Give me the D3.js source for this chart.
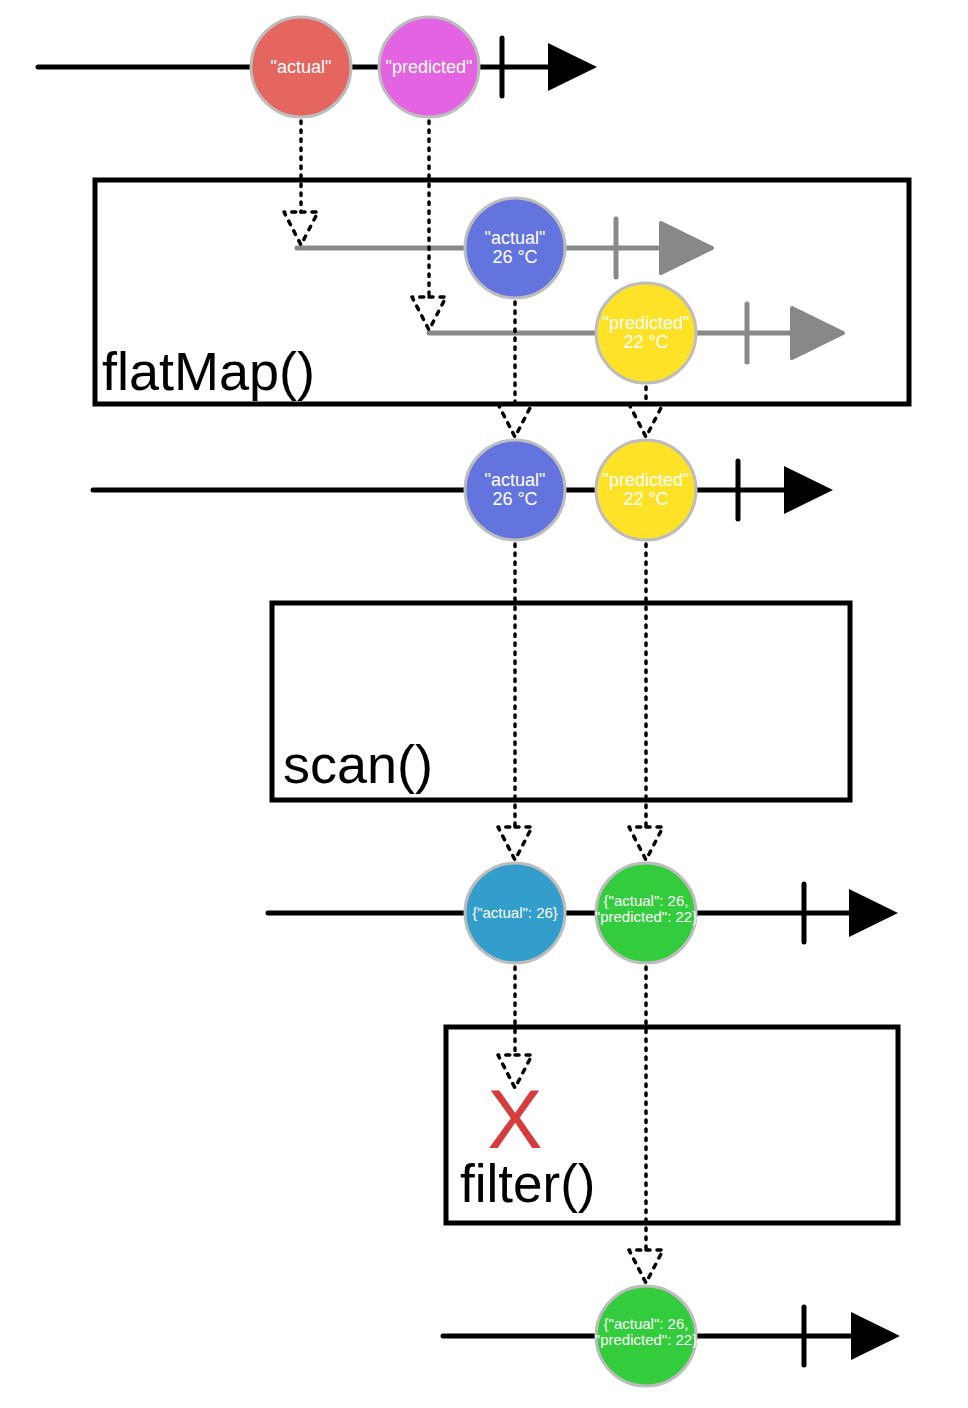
<!DOCTYPE html>
<html>
<head>
<meta charset="utf-8">
<script src="https://cdn.jsdelivr.net/npm/d3@7"></script>
<style>
  html, body { margin: 0; padding: 0; background: #fff; }
  svg { display: block; font-family: "Liberation Sans", Arial, sans-serif; }
</style>
</head>
<body>
<svg id="chart" width="968" height="1408"></svg>
<script>
//streams (time runs left to right, in diagram time units)
const streams = ["source", "inner1", "inner2", "merged", "scanned", "filtered"];
const streamStart = [38, 297, 429, 93, 268, 443];
const streamComplete = [502, 616, 747, 738, 804, 804];
const streamEnd = [597, 714, 845, 833, 898, 900];
const innerStreams = ["inner1", "inner2"];

//emitted values
const marbleStream = ["source", "source", "inner1", "inner2", "merged", "merged", "scanned", "scanned", "filtered"];
const marbleTime = [301, 429, 515, 646, 515, 646, 515, 646, 646];
const marbleKind = ["actual", "predicted", "actual", "predicted", "actual", "predicted", "scanA", "scanAP", "scanAP"];
const marbleText = [
	['"actual"'],
	['"predicted"'],
	['"actual"', '26 °C'],
	['"predicted"', '22 °C'],
	['"actual"', '26 °C'],
	['"predicted"', '22 °C'],
	['{"actual": 26}'],
	['{"actual": 26,', '"predicted": 22}'],
	['{"actual": 26,', '"predicted": 22}']
];

//operators
const operatorNames = ["flatMap()", "scan()", "filter()"];

//arrows between marbles: from marble index -> to marble index / stream start / dropped
const edgeFrom = [0, 1, 2, 3, 4, 5, 6, 7];
const edgeTo = ["start:inner1", "start:inner2", 4, 5, 6, 7, "drop", 8];

//layout (kept away from the data)
const x = d3.scaleLinear().domain([0, 968]).range([0, 968]);
const y = d3.scaleOrdinal().domain(streams).range([67, 248, 333, 490, 913, 1336]);
const R = 50;
const boxes = [
	{x0: 95, x1: 909, y0: 180, y1: 404},
	{x0: 272, x1: 850, y0: 603, y1: 800},
	{x0: 446, x1: 898, y0: 1027, y1: 1223}
];
const dropPoint = {t: 515, y: 1088};

const colour = d3.scaleOrdinal()
	.domain(["actual", "predicted", "scanA", "scanAP"])
	.range(["#e5655f", "#e363e3", "#339dcc", "#33cc3d"]);
const innerColour = colour.copy().range(["#6474de", "#fde228", "#339dcc", "#33cc3d"]);

const svg = d3.select("#chart");

//operator boxes
const ops = svg.append("g").selectAll("g")
	.data(operatorNames)
	.join("g");

ops.append("rect")
	.attr("x", (d, i) => boxes[i].x0)
	.attr("y", (d, i) => boxes[i].y0)
	.attr("width", (d, i) => boxes[i].x1 - boxes[i].x0)
	.attr("height", (d, i) => boxes[i].y1 - boxes[i].y0)
	.attr("fill", "none")
	.attr("stroke", "#000")
	.attr("stroke-width", 5);

ops.append("text")
	.attr("x", (d, i) => boxes[i].x0 + [7, 11, 14][i])
	.attr("y", (d, i) => boxes[i].y1 - [14, 17, 21][i])
	.attr("font-size", (d, i) => [54, 54, 53][i])
	.text(d => d);

//the dropped value in filter()
svg.append("text")
	.attr("x", x(dropPoint.t))
	.attr("y", dropPoint.y + 60)
	.attr("text-anchor", "middle")
	.attr("font-size", 83)
	.attr("fill", "#d63c3c")
	.text("X");

//timelines
const lines = svg.append("g").selectAll("g")
	.data(streams)
	.join("g")
	.attr("class", "timeline");

const lineColour = s => innerStreams.includes(s) ? "#888" : "#000";

lines.append("line")
	.attr("x1", (d, i) => x(streamStart[i]))
	.attr("x2", (d, i) => x(streamEnd[i]) - 10)
	.attr("y1", d => y(d))
	.attr("y2", d => y(d))
	.attr("stroke", lineColour)
	.attr("stroke-width", 5)
	.attr("stroke-linecap", "round");

lines.append("line")
	.attr("x1", (d, i) => x(streamComplete[i]))
	.attr("x2", (d, i) => x(streamComplete[i]))
	.attr("y1", d => y(d) - 29)
	.attr("y2", d => y(d) + 29)
	.attr("stroke", lineColour)
	.attr("stroke-width", 5)
	.attr("stroke-linecap", "round");

lines.append("path")
	.attr("d", (d, i) => {
		let gray = innerStreams.includes(d);
		let e = x(streamEnd[i]) - (gray ? 2 : 0);
		let w = gray ? 51 : 49;
		let h = gray ? 25 : 24;
		let cy = y(d);
		return `M${e - w},${cy - h}L${e},${cy}L${e - w},${cy + h}Z`;
	})
	.attr("fill", lineColour)
	.attr("stroke", d => innerStreams.includes(d) ? "#888" : "none")
	.attr("stroke-width", 4)
	.attr("stroke-linejoin", "round");

//dotted arrows
function marblePos(i){
	return {x: x(marbleTime[i]), y: y(marbleStream[i])};
}

const edges = edgeFrom.map(function(f, k){
	let a = marblePos(f);
	let to = edgeTo[k];
	let tip;
	if (typeof to === "number"){
		let b = marblePos(to);
		tip = {x: b.x, y: b.y - R - 3};
	} else if (to === "drop"){
		tip = {x: x(dropPoint.t), y: dropPoint.y};
	} else {
		let s = to.split(":")[1];
		tip = {x: a.x, y: y(s) - 3};
	}
	return {x: a.x, y1: a.y + R, tip: tip};
});

const arrows = svg.append("g").selectAll("g")
	.data(edges)
	.join("g");

arrows.append("line")
	.attr("x1", d => d.x)
	.attr("x2", d => d.x)
	.attr("y1", d => d.y1 + 4)
	.attr("y2", d => d.tip.y - 33)
	.attr("stroke", "#000")
	.attr("stroke-width", 3.5)
	.attr("stroke-linecap", "round")
	.attr("stroke-dasharray", "2.5,6.5");

arrows.append("path")
	.attr("d", d => `M${d.tip.x},${d.tip.y - 33}L${d.tip.x + 17},${d.tip.y - 33}L${d.tip.x},${d.tip.y}L${d.tip.x - 17},${d.tip.y - 33}Z`)
	.attr("fill", "none")
	.attr("stroke", "#000")
	.attr("stroke-width", 3.5)
	.attr("stroke-linecap", "round")
	.attr("stroke-linejoin", "round")
	.attr("stroke-dasharray", "4,7");

//marbles
const marbles = svg.append("g").selectAll("g")
	.data(marbleTime)
	.join("g")
	.attr("transform", (d, i) => `translate(${x(d)},${y(marbleStream[i])})`);

marbles.append("circle")
	.attr("r", R)
	.attr("fill", (d, i) => {
		let s = marbleStream[i];
		return s === "source" ? colour(marbleKind[i]) : innerColour(marbleKind[i]);
	})
	.attr("stroke", "#bdbdbd")
	.attr("stroke-width", 3);

marbles.each(function(d, i){
	let lines = marbleText[i];
	let json = marbleKind[i].startsWith("scan");
	let size = json ? 15 : 18;
	let step = json ? 16 : 19;
	let first = lines.length === 1 ? (json ? 5 : 6) : (json ? -7 : -4);
	d3.select(this).selectAll("text")
		.data(lines)
		.join("text")
		.attr("x", 0)
		.attr("y", (t, j) => first + j * step)
		.attr("text-anchor", "middle")
		.attr("font-size", size)
		.attr("fill", "#fff")
		.text(t => t);
});
</script>
</body>
</html>
